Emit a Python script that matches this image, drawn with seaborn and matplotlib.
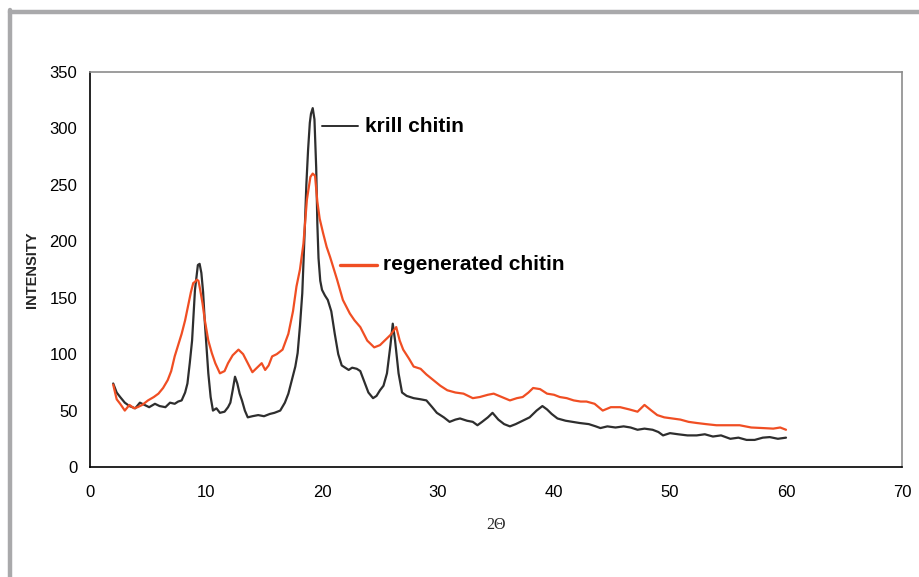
import matplotlib
matplotlib.use("Agg")
import matplotlib.pyplot as plt
import seaborn as sns
from matplotlib.lines import Line2D

# ---- data ----
krill_x = [2, 2.3, 2.6, 3, 3.4, 3.9, 4.3, 4.7, 5.1, 5.6,
           6.0, 6.5, 6.9, 7.3, 7.6, 7.9, 8.2, 8.4, 8.6, 8.8,
           9.05, 9.3, 9.45, 9.6, 9.75, 9.9, 10.05, 10.2, 10.4, 10.6,
           10.9, 11.2, 11.6, 11.9, 12.1, 12.3, 12.5, 12.7, 12.9, 13.1,
           13.35, 13.6, 14.0, 14.5, 15.0, 15.5, 15.9, 16.4, 16.8, 17.1,
           17.4, 17.7, 17.9, 18.1, 18.3, 18.5, 18.65, 18.8, 18.95, 19.05,
           19.2, 19.35, 19.5, 19.6, 19.7, 19.85, 20.0, 20.25, 20.5, 20.8,
           21.1, 21.4, 21.7, 22.0, 22.3, 22.6, 23.0, 23.3, 23.7, 24.0,
           24.4, 24.7, 25.0, 25.3, 25.6, 25.9, 26.1, 26.3, 26.6, 26.9,
           27.3, 27.9, 28.5, 29.0, 29.5, 29.9, 30.5, 31.0, 31.5, 31.9,
           32.5, 33.0, 33.4, 33.8, 34.3, 34.7, 35.2, 35.7, 36.2, 36.7,
           37.3, 37.9, 38.5, 39.0, 39.4, 39.8, 40.3, 41.0, 41.6, 42.2,
           43.0, 43.6, 44.0, 44.6, 45.3, 46.0, 46.6, 47.2, 47.8, 48.5,
           49.0, 49.4, 50.0, 50.7, 51.5, 52.3, 53.0, 53.7, 54.4, 55.2,
           55.9, 56.6, 57.3, 58.0, 58.6, 59.3, 60.0]
krill_y = [74, 66, 62, 57, 54, 52, 57, 55, 53, 56,
           54, 53, 57, 56, 58, 59, 66, 74, 92, 112,
           157, 179, 180, 172, 155, 128, 105, 83, 62, 50,
           52, 48, 49, 53, 57, 68, 80, 74, 65, 59,
           50, 44, 45, 46, 45, 47, 48, 50, 57, 65,
           77, 89, 101, 125, 154, 207, 250, 281, 305, 313,
           318, 308, 265, 215, 185, 165, 157, 152, 148, 138,
           118, 100, 90, 88, 86, 88, 87, 85, 74, 66,
           61, 63, 68, 72, 83, 108, 127, 112, 83, 66,
           63, 61, 60, 59, 53, 48, 44, 40, 42, 43,
           41, 40, 37, 40, 44, 48, 42, 38, 36, 38,
           41, 44, 50, 54, 51, 47, 43, 41, 40, 39,
           38, 36, 34.5, 36, 35, 36, 35, 33, 34, 33,
           31, 28, 30, 29, 28, 28, 29, 27, 28, 25,
           26, 24, 24, 26, 26.5, 25, 26]

regen_x = [2, 2.3, 2.6, 3, 3.4, 3.8, 4.1, 4.5, 5.0, 5.5,
           5.9, 6.3, 6.7, 7.0, 7.3, 7.6, 7.9, 8.2, 8.5, 8.7,
           8.9, 9.05, 9.2, 9.35, 9.5, 9.7, 9.9, 10.2, 10.5, 10.8,
           11.2, 11.6, 11.9, 12.3, 12.8, 13.2, 13.6, 14.0, 14.4, 14.8,
           15.1, 15.4, 15.7, 16.1, 16.6, 17.1, 17.5, 17.8, 18.1, 18.4,
           18.7, 19.0, 19.2, 19.4, 19.6, 19.8, 20.1, 20.4, 20.7, 21.0,
           21.3, 21.8, 22.4, 22.8, 23.3, 23.9, 24.5, 25.0, 25.5, 25.9,
           26.4, 26.7, 27.0, 27.5, 27.9, 28.5, 29.0, 29.6, 30.2, 30.8,
           31.5, 32.2, 33.0, 33.6, 34.3, 34.8, 35.5, 36.2, 36.8, 37.3,
           37.8, 38.2, 38.8, 39.4, 40.0, 40.5, 41.1, 41.7, 42.3, 42.8,
           43.5, 44.2, 44.9, 45.7, 46.5, 47.2, 47.8, 48.4, 48.9, 49.5,
           50.2, 50.9, 51.6, 52.3, 53.1, 54.0, 55.0, 56.0, 57.0, 58.0,
           58.9, 59.5, 60.0]
regen_y = [73, 60, 56, 50, 55, 52, 53, 55, 59, 62,
           65, 70, 77, 85, 98, 108, 118, 130, 145, 155,
           163, 164, 166, 165, 157, 145, 130, 112, 101, 92,
           83, 85, 92, 99, 104, 100, 92, 84, 88, 92,
           86, 90, 98, 100, 104, 118, 138, 160, 175, 198,
           237, 257, 260, 258, 235, 220, 207, 195, 186, 176,
           166, 148, 136, 130, 124, 112, 106, 108, 113, 117,
           124, 112, 104, 96, 89, 87, 82, 77, 72, 68,
           66, 65, 61, 62, 64, 65, 62, 59, 61, 62,
           66, 70, 69, 65, 64, 62, 61, 59, 58, 58,
           56, 50, 53, 53, 51, 49, 55, 50, 46, 44,
           43, 42, 40, 39, 38, 37, 37, 37, 35, 34.5,
           34, 35, 33]

x_ticks = [0, 10, 20, 30, 40, 50, 60, 70]
y_ticks = [0, 50, 100, 150, 200, 250, 300, 350]
series_names = ["krill chitin", "regenerated chitin"]

# ---- style ----
sns.set_style("white")
plt.rcParams["font.family"] = ["Liberation Sans", "DejaVu Sans"]

KRILL_C = "#2e2e2e"
REGEN_C = "#f04e23"

fig = plt.figure(figsize=(9.19, 5.77), dpi=100)
ax = fig.add_axes([90 / 919, 1 - 467 / 577, 812 / 919, 395 / 577])

sns.lineplot(x=krill_x, y=krill_y, ax=ax, color=KRILL_C, linewidth=1.6)
sns.lineplot(x=regen_x, y=regen_y, ax=ax, color=REGEN_C, linewidth=1.6)

ax.set_xlim(0, 70)
ax.set_ylim(0, 350)
ax.set_xticks(x_ticks)
ax.set_yticks(y_ticks)
ax.tick_params(axis="both", direction="out", length=5, width=1,
               colors="black", labelsize=12, pad=4)
ax.tick_params(axis="x", pad=8)

for side in ["left", "bottom"]:
    ax.spines[side].set_color("black")
    ax.spines[side].set_linewidth(1.2)
for side in ["top", "right"]:
    ax.spines[side].set_color("#8c8c8c")
    ax.spines[side].set_linewidth(1.2)

ax.set_ylabel("INTENSITY", fontsize=10.5, fontweight="bold", labelpad=8)
ax.set_xlabel("2\u0398", fontsize=11.5, family=["Liberation Serif", "DejaVu Serif"],
              labelpad=12)

# inline labels
ax.plot([20.0, 23.1], [302, 302], color=KRILL_C, linewidth=1.4)
ax.text(23.7, 302, series_names[0], fontsize=15, fontweight="bold",
        va="center", ha="left", color="black")
ax.plot([21.55, 24.74], [179, 179], color=REGEN_C, linewidth=2.4)
ax.text(25.26, 179, series_names[1], fontsize=15, fontweight="bold",
        va="center", ha="left", color="black")

# outer frame (left and top gray border)
fig.add_artist(Line2D([10 / 919, 10 / 919], [0, 1 - 10 / 577],
                      transform=fig.transFigure, color="#a9a9ab", linewidth=3.2))
fig.add_artist(Line2D([10 / 919, 1], [1 - 12 / 577, 1 - 12 / 577],
                      transform=fig.transFigure, color="#a9a9ab", linewidth=3.2))

fig.savefig("out.png", dpi=100)
